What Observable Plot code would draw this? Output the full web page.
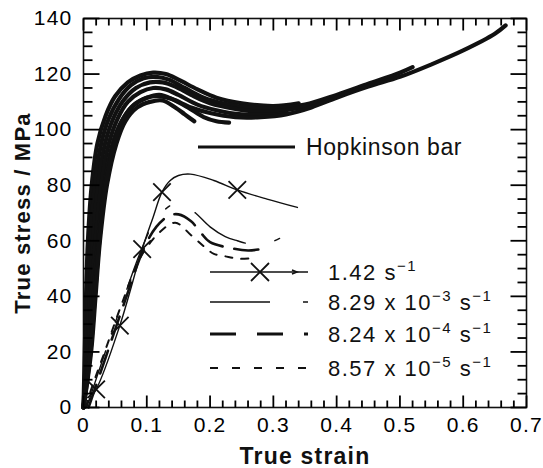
<!DOCTYPE html>
<html><head><meta charset="utf-8">
<script src="https://cdn.jsdelivr.net/npm/d3@7"></script>
<script src="https://cdn.jsdelivr.net/npm/@observablehq/plot@0.6"></script>
<style>
body{margin:0;background:#fff;}
#wrap{position:relative;width:543px;height:468px;font-family:"Liberation Sans",Arial,sans-serif;}
#legend{position:absolute;left:0;top:0;pointer-events:none;}
</style></head><body><div id="wrap"></div>
<script>
// ---- axes ----
const xTicks = [0, 0.1, 0.2, 0.3, 0.4, 0.5, 0.6, 0.7];
const xTickLabels = ["0", "0.1", "0.2", "0.3", "0.4", "0.5", "0.6", "0.7"];
const xMinorTicks = [0.02,0.04,0.06,0.08,0.12,0.14,0.16,0.18,0.22,0.24,0.26,0.28,0.32,0.34,0.36,0.38,0.42,0.44,0.46,0.48,0.52,0.54,0.56,0.58,0.62,0.64,0.66,0.68];
const yTicks = [0, 20, 40, 60, 80, 100, 120, 140];
const yTickLabels = ["0", "20", "40", "60", "80", "100", "120", "140"];
const yMinorTicks = [5,10,15,25,30,35,45,50,55,65,70,75,85,90,95,105,110,115,125,130,135];
const xLabel = "True strain";
const yLabel = "True stress / MPa";

// ---- Hopkinson bar curves [strain, stress] ----
const hopA = [[0,0],[0.002,20],[0.004,40],[0.007,60],[0.013,80],[0.022,95],[0.035,105],[0.05,112],[0.07,117],[0.09,119.5],[0.11,120.5],[0.13,120],[0.15,118],[0.18,114.5],[0.21,111.5],[0.25,109.5],[0.3,108.5],[0.34,109.5]];
const hopB = [[0,0],[0.004,20],[0.007,40],[0.011,60],[0.018,80],[0.028,95],[0.04,104],[0.056,111],[0.075,116],[0.095,118.5],[0.115,119],[0.135,118],[0.16,115],[0.19,111.5],[0.22,109.5],[0.26,108],[0.3,107.5],[0.35,109],[0.4,112.5],[0.45,116.5],[0.5,120.5],[0.52,122.5]];
const hopC = [[0,0],[0.006,20],[0.01,40],[0.015,60],[0.023,80],[0.034,95],[0.047,104],[0.063,110.5],[0.083,115],[0.105,117],[0.125,117],[0.145,115.5],[0.17,112.5],[0.2,109.5],[0.24,107.5],[0.28,106.5],[0.32,107],[0.37,109.5],[0.38,110]];
const hopD = [[0,0],[0.008,20],[0.013,40],[0.019,60],[0.028,80],[0.04,95],[0.054,104],[0.07,110],[0.09,113.5],[0.11,115],[0.13,114.5],[0.15,112.5],[0.18,109],[0.21,107],[0.25,105.5],[0.3,105.5],[0.32,106]];
const hopE = [[0,0],[0.01,20],[0.016,40],[0.023,60],[0.033,80],[0.046,95],[0.06,103],[0.078,108.5],[0.1,111.5],[0.12,112],[0.14,111],[0.17,108],[0.2,106],[0.24,104.5],[0.28,104.5],[0.32,105.5],[0.36,108],[0.4,111.5],[0.45,115.5],[0.5,119],[0.55,123.5],[0.6,128.5],[0.65,134.5],[0.667,137.5]];
const hopF = [[0,0],[0.012,20],[0.019,40],[0.026,60],[0.037,80],[0.052,95],[0.066,103],[0.085,108],[0.105,110],[0.125,110.5],[0.145,108],[0.16,105.5],[0.175,103]];
const hopG = [[0,0],[0.011,20],[0.018,40],[0.025,60],[0.035,80],[0.05,96],[0.063,104],[0.08,109],[0.1,111.5],[0.12,112.5],[0.14,111],[0.165,108],[0.19,104.5],[0.21,103],[0.23,102.5]];

// ---- quasi-static curves ----
const rate142 = [[0,0],[0.02,6.5],[0.0574,29.5],[0.0927,57],[0.11,68.5],[0.124,77.5],[0.137,81.7],[0.15,83.5],[0.169,84],[0.206,81.7],[0.243,78.3],[0.29,75],[0.338,72]];
const rate142Markers = [[0.02,6.5],[0.0574,29.5],[0.0927,57],[0.124,77.5],[0.243,78.3]];
const rate829e3 = [[0.005,0],[0.03,17],[0.06,37],[0.09,56],[0.11,66],[0.13,71.5],[0.153,74],[0.177,70],[0.2,65],[0.224,61.5],[0.243,60],[0.26,59],[0.29,59],[0.311,61]];
const rate824e4 = [[0.008,0],[0.035,18],[0.065,38],[0.095,57],[0.115,65],[0.135,69],[0.15,69.5],[0.17,67],[0.185,63],[0.2,59.5],[0.23,57.5],[0.26,56.5],[0.28,57]];
const rate857e5 = [[0.004,0],[0.01,5],[0.035,21],[0.06,37],[0.09,54],[0.12,63],[0.145,66.5],[0.17,62],[0.19,58],[0.206,55.3],[0.224,54.4],[0.248,53.5],[0.266,53.8]];

const legendLabels = ["Hopkinson bar", "1.42 s", "8.29 x 10", "8.24 x 10", "8.57 x 10"];
const legendExponents = [null, null, "\u22123", "\u22124", "\u22125"];

const ink = "#111";
const toRows = arr => arr.map(([s, t]) => ({strain: s, stress: t}));
const hops = [hopA, hopB, hopC, hopD, hopE, hopF, hopG];

const W = 543, H = 468, mL = 83, mR = 17, mT = 18, mB = 61;
const xDomain = [0, 0.7], yDomain = [0, 140];
const font = "'Liberation Sans', Arial, sans-serif";
// pixel tick lengths converted to data units so the ticks point inward
const pxX = (W - mL - mR) / (xDomain[1] - xDomain[0]);
const pxY = (H - mT - mB) / (yDomain[1] - yDomain[0]);
const xTickRows = (vals, len, side) => vals.map(v => ({
  strain: v,
  s1: side === "bottom" ? yDomain[0] : yDomain[1],
  s2: side === "bottom" ? yDomain[0] + len / pxY : yDomain[1] - len / pxY
}));
const yTickRows = (vals, len, side) => vals.map(v => ({
  stress: v,
  e1: side === "left" ? xDomain[0] : xDomain[1],
  e2: side === "left" ? xDomain[0] + len / pxX : xDomain[1] - len / pxX
}));
const xTickLinks = [
  ...xTickRows(xTicks, 12, "bottom"), ...xTickRows(xMinorTicks, 7, "bottom"),
  ...xTickRows(xTicks, 12, "top"), ...xTickRows(xMinorTicks, 7, "top")
];
const yTickLinks = [
  ...yTickRows(yTicks, 16, "left"), ...yTickRows(yMinorTicks, 9, "left"),
  ...yTickRows(yTicks, 16, "right"), ...yTickRows(yMinorTicks, 9, "right")
];

const chart = Plot.plot({
  width: W, height: H,
  marginLeft: mL, marginRight: mR, marginTop: mT, marginBottom: mB,
  x: {domain: xDomain, ticks: xTicks, tickSize: 0, tickPadding: 10, tickFormat: (d, i) => xTickLabels[i], label: null},
  y: {domain: yDomain, ticks: yTicks, tickSize: 0, tickPadding: 11, tickFormat: (d, i) => yTickLabels[i], label: null},
  style: {fontFamily: font, fontSize: "21px", letterSpacing: "1.2px"},
  marks: [
    Plot.frame({stroke: ink, strokeWidth: 1.6}),
    // axis titles
    Plot.text([xLabel], {frameAnchor: "bottom", lineAnchor: "middle", textAnchor: "middle", dy: 49, text: d => d, fontSize: 23, fontWeight: "bold", fill: ink, style: "letter-spacing:2px"}),
    Plot.text([yLabel], {frameAnchor: "left", lineAnchor: "middle", textAnchor: "middle", dx: -61, rotate: -90, text: d => d, fontSize: 22, fontWeight: "bold", fill: ink, style: "letter-spacing:1px"}),
    // Hopkinson bar band
    ...hops.map(h => Plot.line(toRows(h), {x: "strain", y: "stress", stroke: ink, strokeWidth: 4.2, curve: "catmull-rom"})),
    // quasi-static
    Plot.line(toRows(rate142), {x: "strain", y: "stress", stroke: ink, strokeWidth: 1.4, curve: "catmull-rom"}),
    Plot.dot(toRows(rate142Markers), {x: "strain", y: "stress", symbol: "times", r: 8, stroke: ink, strokeWidth: 1.8}),
    Plot.line(toRows(rate829e3), {x: "strain", y: "stress", stroke: ink, strokeWidth: 1.4, strokeDasharray: "60,30,5,30", curve: "catmull-rom"}),
    Plot.line(toRows(rate824e4), {x: "strain", y: "stress", stroke: ink, strokeWidth: 2.6, strokeDasharray: "24,12", curve: "catmull-rom"}),
    Plot.line(toRows(rate857e5), {x: "strain", y: "stress", stroke: ink, strokeWidth: 2, strokeDasharray: "7,9", curve: "catmull-rom"}),
    // inward ticks on all four sides
    Plot.link(xTickLinks, {x1: "strain", x2: "strain", y1: "s1", y2: "s2", stroke: "black", strokeWidth: 1.8}),
    Plot.link(yTickLinks, {y1: "stress", y2: "stress", x1: "e1", x2: "e2", stroke: "black", strokeWidth: 1.8})
  ]
});
const wrap = document.getElementById("wrap");
wrap.appendChild(chart);

// ---- legend overlay ----
const lg = d3.select(wrap).append("svg").attr("id", "legend").attr("width", W).attr("height", H)
  .style("font-family", font);
lg.append("line").attr("x1", 198).attr("x2", 295).attr("y1", 147).attr("y2", 147).attr("stroke", ink).attr("stroke-width", 3);
lg.append("text").attr("x", 306).attr("y", 155).attr("fill", ink).attr("font-size", 23).attr("letter-spacing", "0.6px").text(legendLabels[0]);
const rows = [
  {y: 272, w: 1.4, dash: null},
  {y: 302, w: 1.4, dash: "60,33,5,100"},
  {y: 334, w: 3, dash: "26,21"},
  {y: 368, w: 2, dash: "8,14"}
];
rows.forEach((r, i) => {
  const ln = lg.append("line").attr("x1", 210).attr("x2", 308).attr("y1", r.y).attr("y2", r.y)
    .attr("stroke", ink).attr("stroke-width", r.w);
  if (r.dash) ln.attr("stroke-dasharray", r.dash);
  const t = lg.append("text").attr("x", 328).attr("y", r.y + 8).attr("fill", ink).attr("font-size", 22).attr("letter-spacing", "1.5px");
  t.append("tspan").text(legendLabels[i + 1]);
  if (legendExponents[i + 1]) {
    t.append("tspan").attr("dy", -9).attr("font-size", 15).text(legendExponents[i + 1]);
    t.append("tspan").attr("dy", 9).text(" s");
  }
  t.append("tspan").attr("dy", -9).attr("font-size", 15).text("\u22121");
});
lg.append("path").attr("d", "M251,263L269,281M251,281L269,263").attr("stroke", ink).attr("stroke-width", 1.8);
lg.append("path").attr("d", "M292,270L297,272L292,274").attr("stroke", ink).attr("fill", "none").attr("stroke-width", 1.5);
</script></body></html>
